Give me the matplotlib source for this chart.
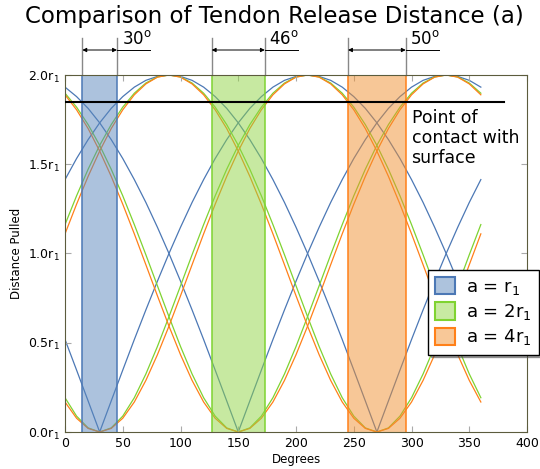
import numpy as np
import matplotlib.pyplot as plt
import matplotlib.transforms as mtransforms
from matplotlib.patches import Patch

plt.rcParams['mathtext.default'] = 'regular'

# degrees, sampled every 10
degrees = list(range(0, 361, 10))

# a = r1 (tendons at 30, 150, 270 deg)
blue_t1 = [0.518, 0.347, 0.174, 0.0, 0.174, 0.347, 0.518, 0.684, 0.845, 1.0, 1.147, 1.286, 1.414,
           1.532, 1.638, 1.732, 1.813, 1.879, 1.932, 1.970, 1.992, 2.0, 1.992, 1.970, 1.932, 1.879,
           1.813, 1.732, 1.638, 1.532, 1.414, 1.286, 1.147, 1.0, 0.845, 0.684, 0.518]
blue_t2 = [1.932, 1.879, 1.813, 1.732, 1.638, 1.532, 1.414, 1.286, 1.147, 1.0, 0.845, 0.684, 0.518,
           0.347, 0.174, 0.0, 0.174, 0.347, 0.518, 0.684, 0.845, 1.0, 1.147, 1.286, 1.414, 1.532,
           1.638, 1.732, 1.813, 1.879, 1.932, 1.970, 1.992, 2.0, 1.992, 1.970, 1.932]
blue_t3 = [1.414, 1.532, 1.638, 1.732, 1.813, 1.879, 1.932, 1.970, 1.992, 2.0, 1.992, 1.970, 1.932,
           1.879, 1.813, 1.732, 1.638, 1.532, 1.414, 1.286, 1.147, 1.0, 0.845, 0.684, 0.518, 0.347,
           0.174, 0.0, 0.174, 0.347, 0.518, 0.684, 0.845, 1.0, 1.147, 1.286, 1.414]

# a = 2r1
green_t1 = [0.192, 0.089, 0.023, 0.0, 0.023, 0.089, 0.192, 0.325, 0.479, 0.646, 0.819, 0.993, 1.162,
            1.323, 1.472, 1.606, 1.722, 1.820, 1.898, 1.955, 1.989, 2.0, 1.989, 1.955, 1.898, 1.820,
            1.722, 1.606, 1.472, 1.323, 1.162, 0.993, 0.819, 0.646, 0.479, 0.325, 0.192]
green_t2 = [1.898, 1.820, 1.722, 1.606, 1.472, 1.323, 1.162, 0.993, 0.819, 0.646, 0.479, 0.325, 0.192,
            0.089, 0.023, 0.0, 0.023, 0.089, 0.192, 0.325, 0.479, 0.646, 0.819, 0.993, 1.162, 1.323,
            1.472, 1.606, 1.722, 1.820, 1.898, 1.955, 1.989, 2.0, 1.989, 1.955, 1.898]
green_t3 = [1.162, 1.323, 1.472, 1.606, 1.722, 1.820, 1.898, 1.955, 1.989, 2.0, 1.989, 1.955, 1.898,
            1.820, 1.722, 1.606, 1.472, 1.323, 1.162, 0.993, 0.819, 0.646, 0.479, 0.325, 0.192, 0.089,
            0.023, 0.0, 0.023, 0.089, 0.192, 0.325, 0.479, 0.646, 0.819, 0.993, 1.162]

# a = 4r1
orange_t1 = [0.168, 0.077, 0.020, 0.0, 0.020, 0.077, 0.168, 0.289, 0.433, 0.593, 0.763, 0.937, 1.110,
             1.276, 1.432, 1.574, 1.700, 1.805, 1.889, 1.950, 1.988, 2.0, 1.988, 1.950, 1.889, 1.805,
             1.700, 1.574, 1.432, 1.276, 1.110, 0.937, 0.763, 0.593, 0.433, 0.289, 0.168]
orange_t2 = [1.889, 1.805, 1.700, 1.574, 1.432, 1.276, 1.110, 0.937, 0.763, 0.593, 0.433, 0.289, 0.168,
             0.077, 0.020, 0.0, 0.020, 0.077, 0.168, 0.289, 0.433, 0.593, 0.763, 0.937, 1.110, 1.276,
             1.432, 1.574, 1.700, 1.805, 1.889, 1.950, 1.988, 2.0, 1.988, 1.950, 1.889]
orange_t3 = [1.110, 1.276, 1.432, 1.574, 1.700, 1.805, 1.889, 1.950, 1.988, 2.0, 1.988, 1.950, 1.889,
             1.805, 1.700, 1.574, 1.432, 1.276, 1.110, 0.937, 0.763, 0.593, 0.433, 0.289, 0.168, 0.077,
             0.020, 0.0, 0.020, 0.077, 0.168, 0.289, 0.433, 0.593, 0.763, 0.937, 1.110]

# release windows (deg) and their widths
windows = [(15, 45), (127, 173), (245, 295)]
window_labels = ['30', '46', '50']
legend_labels = ['a = r$_1$', 'a = 2r$_1$', 'a = 4r$_1$']
contact_level = 1.85
contact_end = 380

yticks = [0.0, 0.5, 1.0, 1.5, 2.0]
ytick_labels = ['%.1fr$_1$' % v for v in yticks]

line_cols = ['#4c78b5', '#7fd331', '#ff8019']
band_cols = ['#5a87bd', '#91d545', '#f19131']
patch_cols = ['#adc3dd', '#c8eaa2', '#f8c898']

fig = plt.figure(figsize=(5.4, 4.69), dpi=100)
ax = fig.add_axes([0.1204, 0.0789, 0.8556, 0.7612])

groups = [(blue_t1, blue_t2, blue_t3), (green_t1, green_t2, green_t3), (orange_t1, orange_t2, orange_t3)]
for series, c in zip(groups, line_cols):
    for s in series:
        ax.plot(degrees, s, color=c, lw=0.9, zorder=1)

for (x0, x1), fc, ec in zip(windows, band_cols, line_cols):
    ax.axvspan(x0, x1, facecolor=fc, alpha=0.5, edgecolor='none', zorder=2)
    ax.axvline(x0, color=ec, lw=1.1, zorder=2)
    ax.axvline(x1, color=ec, lw=1.1, zorder=2)

ax.plot([0, contact_end], [contact_level, contact_level], color='black', lw=1.5, zorder=3)
ax.text(300, 1.81, 'Point of\ncontact with\nsurface', fontsize=12.5, va='top', ha='left',
        linespacing=1.15)

# dimension marks above the plot
trans = mtransforms.blended_transform_factory(ax.transData, ax.transAxes)
for (x0, x1), lab in zip(windows, window_labels):
    for x in (x0, x1):
        ax.plot([x, x], [1.0, 1.105], transform=trans, color='#888888', lw=1.0, clip_on=False)
    ax.annotate('', xy=(x0, 1.07), xytext=(x1, 1.07), xycoords=trans, textcoords=trans,
                arrowprops=dict(arrowstyle='<|-|>', color='black', lw=0.7,
                                mutation_scale=6, shrinkA=0, shrinkB=0))
    ax.plot([x1, x1 + 29], [1.07, 1.07], transform=trans, color='black', lw=0.7, clip_on=False)
    ax.text(x1 + 4, 1.075, lab + '$^o$', transform=trans, fontsize=12, ha='left', va='bottom')

ax.set_xlim(0, 400)
ax.set_ylim(0, 2.0)
ax.set_xticks(range(0, 401, 50))
ax.set_yticks(yticks)
ax.set_yticklabels(ytick_labels)
ax.tick_params(direction='in', top=True, right=True, labelsize=9, color='#aaaaaa', length=4)
for sp in ax.spines.values():
    sp.set_color('#5c5c3d')
ax.set_xlabel('Degrees', fontsize=8.5, labelpad=2)
ax.set_ylabel('Distance Pulled', fontsize=8.5)

handles = [Patch(facecolor=pc, edgecolor=ec, lw=1.5) for pc, ec in zip(patch_cols, line_cols)]
leg = ax.legend(handles, legend_labels, loc='upper right', bbox_to_anchor=(1.025, 0.455),
                fontsize=13, shadow=True, fancybox=False, framealpha=1, borderaxespad=0,
                handlelength=1.1, handleheight=1.1, handletextpad=0.6, labelspacing=0.3)
leg.get_frame().set_edgecolor('black')
leg.get_frame().set_linewidth(1.0)

fig.text(0.509, 0.965, 'Comparison of Tendon Release Distance (a)', fontsize=16.5,
         ha='center', va='center')

fig.savefig('out.png', dpi=100)
